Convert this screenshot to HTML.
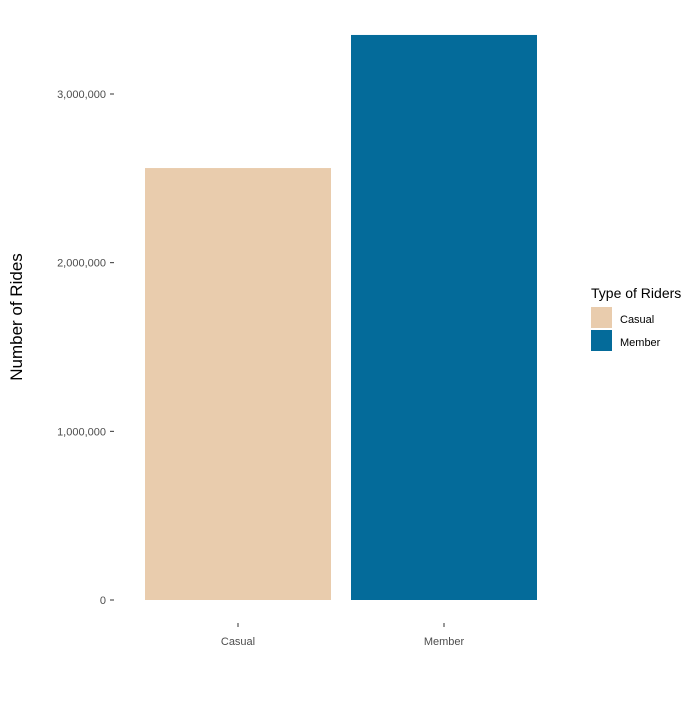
<!DOCTYPE html>
<html><head><meta charset="utf-8"><style>
body{margin:0;background:#fff;font-family:"Liberation Sans",Arial,sans-serif}
</style></head><body>
<svg id="chart" width="700" height="700" viewBox="0 0 700 700">
<rect width="700" height="700" fill="#fff"/>
<g id="yaxis"></g>
<g id="bars"></g>
<g id="xaxis"></g>
<text x="22" y="317" transform="rotate(-90 22 317)" text-anchor="middle" font-size="17" fill="#000">Number of Rides</text>
<g>
<text x="591" y="298" font-size="14" fill="#000">Type of Riders</text>
<g><rect x="591" y="307" width="21" height="21" fill="#e9ccad"/><text x="620" y="323" font-size="11" fill="#000">Casual</text></g>
<g><rect x="591" y="330" width="21" height="21" fill="#046b9a"/><text x="620" y="346" font-size="11" fill="#000">Member</text></g>
</g>
</svg>
<script>
const categories = ["Casual", "Member"];
const values = [2561000, 3350000];
const colors = ["#e9ccad", "#046b9a"];
const yTicks = [0, 1000000, 2000000, 3000000];
const yTickLabels = ["0", "1,000,000", "2,000,000", "3,000,000"];
const NS = "http://www.w3.org/2000/svg";
const y = v => 600 - v * (506 / 3000000);
const x = i => 238 + i * 206;
const bw = 186;
function mk(tag, attrs, parent, txt){const e=document.createElementNS(NS,tag);for(const k in attrs)e.setAttribute(k,attrs[k]);if(txt!==undefined)e.textContent=txt;parent.appendChild(e);return e;}
const ya=document.getElementById('yaxis'), xa=document.getElementById('xaxis'), bg=document.getElementById('bars');
yTicks.forEach((t,i)=>{
  const l=mk('line',{x1:110,x2:114,y1:y(t),y2:y(t),stroke:'#333','stroke-width':1},ya);
  
  
  const tx=mk('text',{x:106,y:y(t)+4,'text-anchor':'end','font-size':11,fill:'#4d4d4d'},ya,yTickLabels[i]);
  
  
});
categories.forEach((c,i)=>{
  const r=mk('rect',{x:x(i)-bw/2,y:y(values[i]),width:bw,height:y(0)-y(values[i]),fill:colors[i]},bg);
  
  
  const l=mk('line',{x1:x(i),x2:x(i),y1:623,y2:627,stroke:'#333','stroke-width':1},xa);
  
  
  const tx=mk('text',{x:x(i),y:645,'text-anchor':'middle','font-size':11,fill:'#4d4d4d'},xa,c);
  
  
});
</script>
</body></html>
